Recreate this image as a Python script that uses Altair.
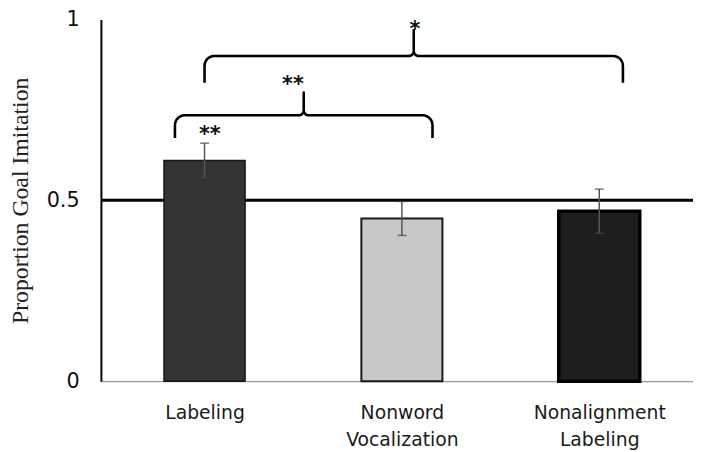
import json
import numpy as np
import pandas as pd
import altair as alt

# ---------------- data ----------------
categories = ["Labeling", "Nonword\nVocalization", "Nonalignment\nLabeling"]
means = [0.61, 0.45, 0.47]
errors = [0.048, 0.047, 0.061]
chance_level = 0.5
y_ticks = [0, 0.5, 1]

# significance brackets (x in category-index units, y in proportion units)
bracket_x1 = [-0.15, 0.0]
bracket_x2 = [1.155, 2.12]
bracket_level = [0.735, 0.899]
bracket_end = [0.672, 0.825]
bracket_peak = [0.798, 0.970]

star_labels = ["**", "**", "*"]
star_x = [0.027, 0.448, 1.066]
star_y = [0.697, 0.835, 0.986]

# ---------------- style ----------------
bar_fills = ["#333333", "#c8c8c8", "#1e1e1e"]
bar_strokes = ["#151515", "#1a1a1a", "#000000"]
bar_stroke_widths = [1.5, 2.0, 3.5]

W, H = 599, 366
x_domain = [-0.5, 2.45]
y_domain = [0, 1]
px_x = W / (x_domain[1] - x_domain[0])
px_y = H / (y_domain[1] - y_domain[0])

bars = pd.DataFrame({
    "idx": list(range(len(categories))),
    "cat": categories,
    "mean": means,
    "lo": [m - e for m, e in zip(means, errors)],
    "hi": [m + e for m, e in zip(means, errors)],
    "fill": bar_fills,
    "stroke": bar_strokes,
    "sw": bar_stroke_widths,
})

# bracket path points (rounded ends, cusp in the middle)
end_r = 10  # px
peak_r = 5  # px
rows = []
for b, (x1, x2, yh, yb, yp) in enumerate(zip(bracket_x1, bracket_x2, bracket_level, bracket_end, bracket_peak)):
    xm = (x1 + x2) / 2
    rex, rey = end_r / px_x, end_r / px_y
    rpx, rpy = peak_r / px_x, peak_r / px_y
    pts = [(x1, yb)]
    for t in np.linspace(np.pi, np.pi / 2, 8):
        pts.append((x1 + rex + rex * np.cos(t), yh - rey + rey * np.sin(t)))
    for t in np.linspace(-np.pi / 2, 0, 8):
        pts.append((xm - rpx + rpx * np.cos(t), yh + rpy + rpy * np.sin(t)))
    pts.append((xm, yp))
    for t in np.linspace(np.pi, 1.5 * np.pi, 8):
        pts.append((xm + rpx + rpx * np.cos(t), yh + rpy + rpy * np.sin(t)))
    for t in np.linspace(np.pi / 2, 0, 8):
        pts.append((x2 - rex + rex * np.cos(t), yh - rey + rey * np.sin(t)))
    pts.append((x2, yb))
    for i, (px, py) in enumerate(pts):
        rows.append({"b": b, "o": i, "x": px, "y": py})
brackets = pd.DataFrame(rows)

stars = pd.DataFrame({"x": star_x, "y": star_y, "t": star_labels})

# ---------------- scales / axes ----------------
x_scale = alt.Scale(domain=x_domain, nice=False, zero=False)
y_scale = alt.Scale(domain=y_domain, nice=False, zero=False)

labels_js = json.dumps(categories)
x_axis = alt.Axis(
    values=[0, 1, 2],
    labelExpr=f"split({labels_js}[datum.value], '\\n')",
    labelFont="DejaVu Sans", labelFontSize=19, labelColor="#1a1a1a",
    labelPadding=23, labelLineHeight=27, labelOverlap=False, labelFlush=False,
    labelBaseline="top",
    ticks=False, tickSize=0, grid=False,
    domainColor="#9a9a9a", domainWidth=1.2,
    title=None,
)
y_axis = alt.Axis(
    values=y_ticks, format="~g",
    labelFont="DejaVu Sans", labelFontSize=21, labelColor="#111111",
    labelPadding=22, ticks=False, tickSize=0, grid=False,
    domainColor="#000000", domainWidth=2,
    title="Proportion Goal Imitation",
    titleFont="Liberation Serif", titleFontSize=24, titleFontWeight="normal",
    titleColor="#222222", titleAngle=270, titleX=-81, titleY=H / 2,
    titleAlign="center", titleBaseline="middle",
)


def X(field):
    return alt.X(field, type="quantitative", scale=x_scale, axis=x_axis)


def Y(field):
    return alt.Y(field, type="quantitative", scale=y_scale, axis=y_axis)


rule = alt.Chart(pd.DataFrame({"y": [chance_level]})).mark_rule(
    color="black", strokeWidth=3
).encode(y=Y("y"))

bar = alt.Chart(bars).mark_bar(size=82).encode(
    x=X("idx"),
    y=Y("mean"),
    fill=alt.Fill("fill:N", scale=None),
    stroke=alt.Stroke("stroke:N", scale=None),
    strokeWidth=alt.StrokeWidth("sw:Q", scale=None),
)

err = alt.Chart(bars).mark_rule(color="#555555", strokeWidth=1.5).encode(
    x=X("idx"), y=Y("lo"), y2="hi"
)
cap_lo = alt.Chart(bars).mark_tick(orient="horizontal", size=9, thickness=1.5, color="#444444").encode(
    x=X("idx"), y=Y("lo")
)
cap_hi = alt.Chart(bars).mark_tick(orient="horizontal", size=9, thickness=1.5, color="#444444").encode(
    x=X("idx"), y=Y("hi")
)

bracket_lines = alt.Chart(brackets).mark_line(color="black", strokeWidth=2.6, strokeJoin="round").encode(
    x=X("x"), y=Y("y"), detail="b:N", order="o:Q"
)

star_text = alt.Chart(stars).mark_text(
    font="DejaVu Sans", fontSize=21, fontWeight="bold", color="#111111",
    baseline="alphabetic", align="center", dy=12
).encode(x=X("x"), y=Y("y"), text="t:N")

chart = alt.layer(rule, bar, err, cap_lo, cap_hi, bracket_lines, star_text).properties(
    width=W, height=H,
    autosize=alt.AutoSizeParams(type="none"),
    padding={"left": 94, "top": 9, "right": 0, "bottom": 67},
).configure_view(stroke=None)

chart.save("out.html", embed_options={"renderer": "svg", "actions": False})
